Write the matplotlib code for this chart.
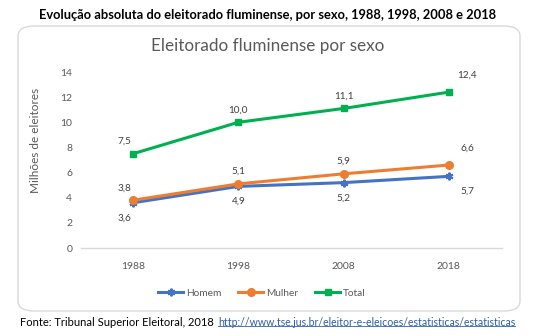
import matplotlib.pyplot as plt
from matplotlib.patches import FancyBboxPatch
from matplotlib.lines import Line2D

plt.rcParams['font.family'] = ['Lato', 'DejaVu Sans']

anos = ['1988', '1998', '2008', '2018']
homem = [3.6, 4.9, 5.2, 5.7]
mulher = [3.8, 5.1, 5.9, 6.6]
total = [7.5, 10.0, 11.1, 12.4]

cinza = '#595959'

fig = plt.figure(figsize=(5.36, 3.35), dpi=100)

# moldura arredondada do gráfico
moldura = FancyBboxPatch((18 / 536, 1 - 311 / 335), 502 / 536, 285 / 335,
                         boxstyle='round,pad=0,rounding_size=0.03',
                         transform=fig.transFigure, facecolor='white',
                         edgecolor='#D9D9D9', linewidth=1.0, zorder=-1)
fig.patches.append(moldura)

fig.text(0.5, 1 - 15 / 335, 'Evolução absoluta do eleitorado fluminense, por sexo, 1988, 1998, 2008 e 2018',
         ha='center', va='center', fontsize=9.3, fontweight='bold', color='black')
fig.text(0.5, 1 - 46 / 335, 'Eleitorado fluminense por sexo',
         ha='center', va='center', fontsize=12.3, color=cinza)

ax = fig.add_axes([80.5 / 536, 1 - 248 / 335, 421 / 536, 176 / 335])
x = [i + 0.5 for i in range(len(anos))]

ax.plot(x, homem, color='#4472C4', lw=2.2, marker=(6, 2, 0), ms=5.5, mew=1.5, label='Homem', zorder=3)
ax.plot(x, mulher, color='#ED7D31', lw=2.2, marker='o', ms=5.5, label='Mulher', zorder=3)
ax.plot(x, total, color='#00B050', lw=2.2, marker='s', ms=5, label='Total', zorder=3)


def rotulo(v, xi, dy, dx=0):
    ax.annotate(f'{v:.1f}'.replace('.', ','), (xi, v), xytext=(dx, dy),
                textcoords='offset points', ha='center', va='center',
                fontsize=7.2, color='#404040')


ultimo = len(x) - 1
for i, xi in enumerate(x):
    dx = -6 if i == 0 else (13 if i == ultimo else 0)
    sobe = 3 if i == ultimo else 0
    rotulo(total[i], xi, 9 + sobe, dx)
    rotulo(mulher[i], xi, 9 + sobe, dx)
    rotulo(homem[i], xi, -11 - 3 * (i == ultimo) + sobe, dx)

ax.set_xlim(0, 4)
ax.set_ylim(0, 14)
ax.set_yticks(range(0, 15, 2))
ax.set_xticks(x)
ax.set_xticklabels(anos)
ax.tick_params(length=0, labelsize=7.5, colors=cinza, pad=10)
ax.tick_params(axis='y', pad=6)
for lado in ['top', 'right', 'left']:
    ax.spines[lado].set_visible(False)
ax.spines['bottom'].set_color('#D9D9D9')
ax.spines['bottom'].set_linewidth(1.0)
ax.set_ylabel('Milhões de eleitores', fontsize=8.5, color=cinza)
ax.yaxis.set_label_coords(-0.093, 0.61)
ax.patch.set_alpha(0)

fig.legend(loc='center', bbox_to_anchor=(262 / 536, 1 - 293 / 335), ncol=3,
           frameon=False, fontsize=7.3, labelcolor=cinza, handlelength=2.5,
           handletextpad=0.3, columnspacing=1.6)

fig.text(20 / 536, 1 - 322 / 335, 'Fonte: Tribunal Superior Eleitoral, 2018',
         ha='left', va='center', fontsize=8, color='black')
link = fig.text(218 / 536, 1 - 322 / 335, 'http://www.tse.jus.br/eleitor-e-eleicoes/estatisticas/estatisticas',
                ha='left', va='center', fontsize=7.6, color='#2E5FA8')

fig.canvas.draw()
bb = link.get_window_extent().transformed(fig.transFigure.inverted())
fig.add_artist(Line2D([bb.x0, bb.x1], [bb.y0 + 0.004, bb.y0 + 0.004],
                      transform=fig.transFigure, color='#2E5FA8', lw=0.6))

fig.savefig('out.png', dpi=100)
